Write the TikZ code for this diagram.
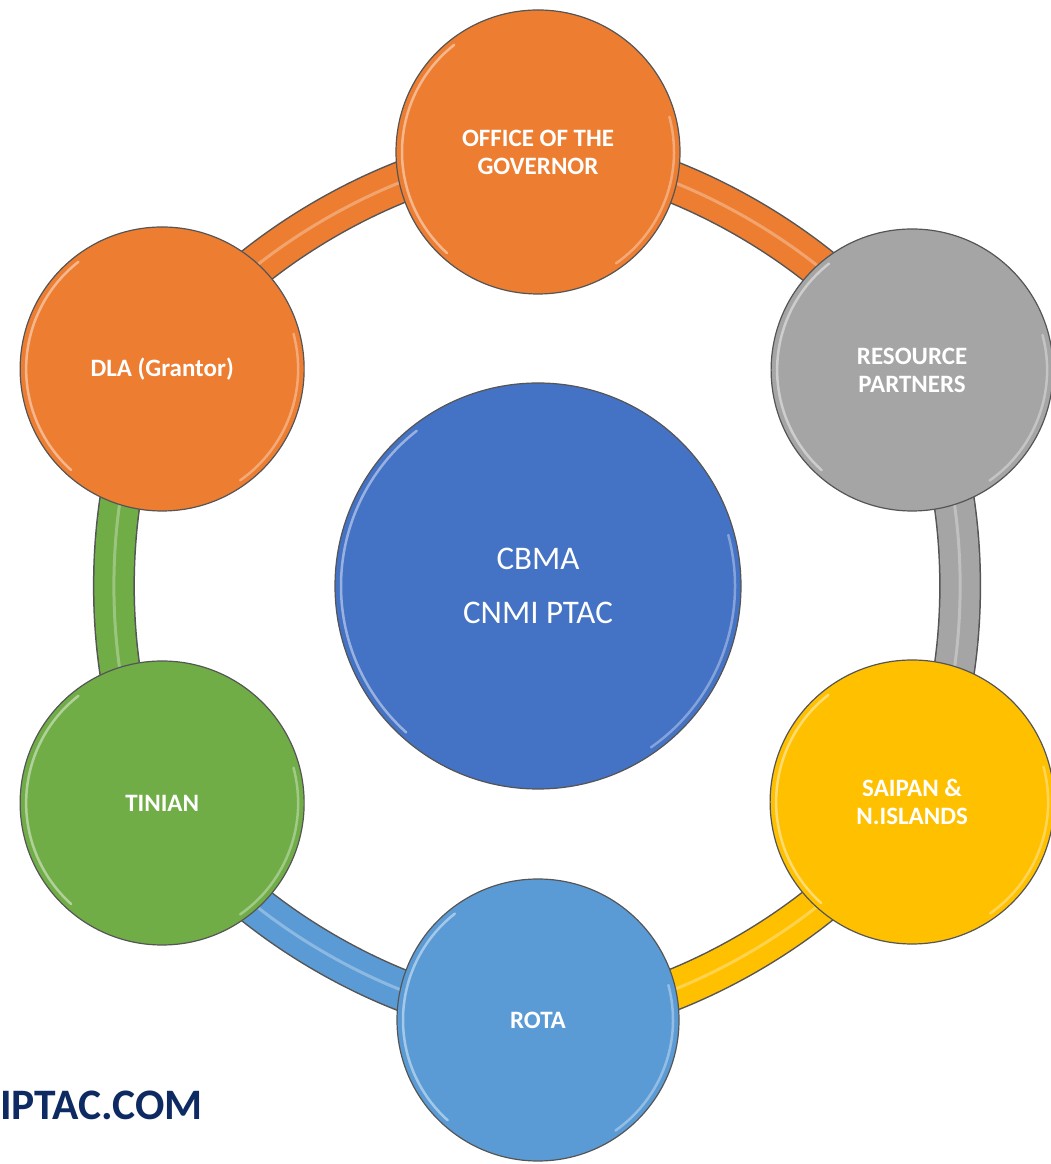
\documentclass[tikz,border=0pt]{standalone}
\usepackage{fontspec}
\setmainfont{Carlito}
\usetikzlibrary{calc}
\pgfdeclarelayer{paper}
\pgfdeclarelayer{bg}
\pgfsetlayers{paper,bg,main}
\definecolor{orangeA}{HTML}{ED7D31}
\definecolor{grayA}{HTML}{A5A5A5}
\definecolor{goldA}{HTML}{FFC000}
\definecolor{skyA}{HTML}{5B9BD5}
\definecolor{greenA}{HTML}{70AD47}
\definecolor{blueA}{HTML}{4472C4}
\definecolor{navyA}{HTML}{0E2A63}
\definecolor{edgeA}{HTML}{555555}
\begin{document}
\begin{tikzpicture}[x=1pt,y=1pt,
  disc/.style 2 args={circle, draw=edgeA, line width=1.2pt, fill=#1,
    minimum size=2*#2pt, inner sep=0pt, text=white, align=center,
    font=\bfseries\fontsize{25}{28}\selectfont,
    path picture={
      \draw[white, opacity=.45, line width=2.5pt, line cap=round]
        ([shift={(128:{#2-6})}]path picture bounding box.center) arc (128:228:{#2-6});
      \draw[white, opacity=.35, line width=2.5pt, line cap=round]
        ([shift={(-55:{#2-6})}]path picture bounding box.center) arc (-55:15:{#2-6});
    }},
  band/.style={draw=#1, line width=39pt,
    preaction={draw=edgeA, line width=42pt},
    postaction={draw=white, opacity=.3, line width=3pt}},
  ringbend/.style={bend left=30, looseness=0.76}]

\begin{pgfonlayer}{paper}
  \fill[white] (0,0) rectangle (1050,1164);
\end{pgfonlayer}
\useasboundingbox (0,0) rectangle (1050,1164);

\coordinate (ring) at (538,578);

% centre and the six satellites on the ring
\node[disc={blueA}{203}, font=\fontsize{33}{54}\selectfont] (core) at (ring) {CBMA\\CNMI PTAC};
\node[disc={orangeA}{142}] (gov)  at ($(ring)+(90:434)$)  {OFFICE OF THE\\GOVERNOR};
\node[disc={grayA}{141}]   (res)  at ($(ring)+(30:432)$)  {RESOURCE\\PARTNERS};
\node[disc={goldA}{142}]   (sai)  at ($(ring)+(-30:432)$) {SAIPAN \&\\N.ISLANDS};
\node[disc={skyA}{141}]    (rota) at ($(ring)+(-90:434)$) {ROTA};
\node[disc={greenA}{142}]  (tin)  at ($(ring)+(-150:434)$) {TINIAN};
\node[disc={orangeA}{142}] (dla)  at ($(ring)+(150:434)$) {DLA (Grantor)};

% coloured bands linking neighbours, behind the discs
\begin{pgfonlayer}{bg}
  \draw[band=orangeA] (gov.center)  to[ringbend] (res.center);
  \draw[band=grayA]   (res.center)  to[ringbend] (sai.center);
  \draw[band=goldA]   (sai.center)  to[ringbend] (rota.center);
  \draw[band=skyA]    (rota.center) to[ringbend] (tin.center);
  \draw[band=greenA]  (tin.center)  to[ringbend] (dla.center);
  \draw[band=orangeA] (dla.center)  to[ringbend] (gov.center);
\end{pgfonlayer}

\node[anchor=base west, inner sep=0pt, text=navyA,
      font=\bfseries\fontsize{43.5}{50}\selectfont] (web) at (0,44) {IPTAC.COM};
\end{tikzpicture}
\end{document}
